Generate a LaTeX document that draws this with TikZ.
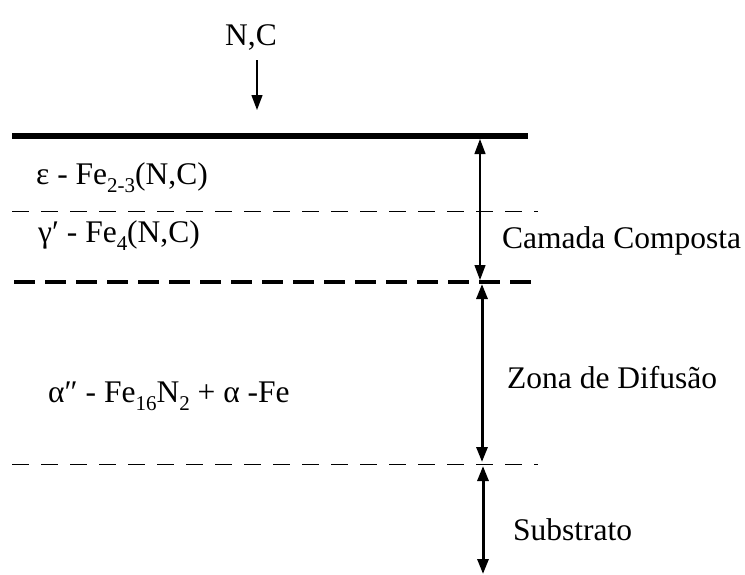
\documentclass[tikz,border=0pt]{standalone}
\usepackage{fontspec}
\setmainfont{Liberation Serif}
\usetikzlibrary{arrows.meta}
\newcommand{\lowsub}[1]{\raisebox{-0.28em}{\fontsize{21}{21}\selectfont #1}}
\begin{document}
\begin{tikzpicture}[x=1pt,y=-1pt,
  lbl/.style={anchor=base west,inner sep=0pt,font=\fontsize{31.5}{34}\selectfont},
  tip/.style={-{Triangle[width=11pt,length=15pt]}},
  dbl/.style={{Triangle[width=11pt,length=15pt]}-{Triangle[width=11pt,length=15pt]}},
  thinDash/.style={line width=1pt,dash pattern=on 17pt off 12pt},
  thickDash/.style={line width=4pt,dash pattern=on 21pt off 10pt}]
\useasboundingbox (0,0) rectangle (745,574);
% surface
\draw[line width=6pt] (12,136) -- (528,136);
\draw[thinDash] (12,211) -- (538,211);
\draw[thickDash] (14,282) -- (531,282);
\draw[thinDash] (12,464) -- (538,464);
% incoming flux
\node[lbl] (nc) at (225,45) {N,C};
\coordinate (nctop) at (257,60);
\coordinate (ncbot) at (257,110);
\draw[tip,line width=1.3pt] (nctop) -- (ncbot);
% layer labels
\node[lbl] (eps) at (36,184) {ε - Fe\lowsub{2-3}(N,C)};
\node[lbl] (gam) at (38,242) {γ′ - Fe\lowsub{4}(N,C)};
\node[lbl] (alp) at (48,402) {α″ - Fe\lowsub{16}N\lowsub{2} + α -Fe};
% dimension arrows
\coordinate (c1) at (480,139);
\coordinate (c2) at (480,280);
\coordinate (z1) at (482,284);
\coordinate (z2) at (482,462);
\coordinate (s1) at (483,466);
\coordinate (s2) at (483,574);
\draw[dbl,line width=1.2pt] (c1) -- (c2);
\draw[dbl,line width=3pt] (z1) -- (z2);
\draw[dbl,line width=3pt] (s1) -- (s2);
\node[lbl] (cc) at (502,248) {Camada Composta};
\node[lbl] (zd) at (507,388) {Zona de Difusão};
\node[lbl] (sb) at (513,540) {Substrato};
\end{tikzpicture}
\end{document}
